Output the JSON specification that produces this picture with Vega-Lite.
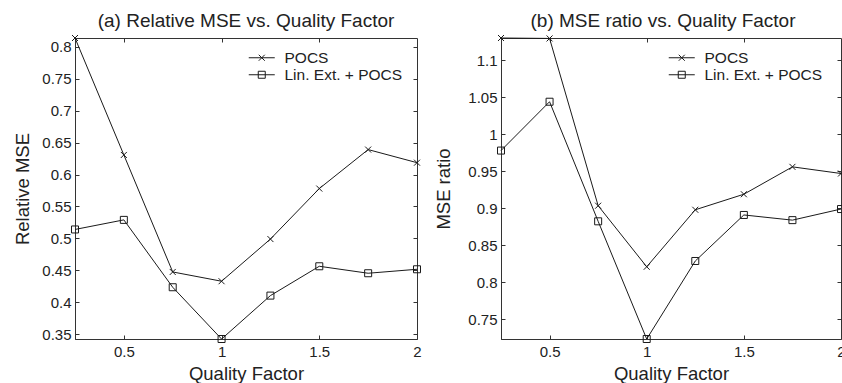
{
  "$schema": "https://vega.github.io/schema/vega-lite/v6.json",
  "padding": {"left": 13, "top": 11, "right": 0, "bottom": 0},
  "config": {
    "font": "Liberation Sans",
    "view": {"stroke": "#333", "strokeWidth": 1},
    "concat": {"spacing": 9},
    "axis": {
      "grid": false,
      "domainColor": "#333",
      "tickColor": "#333",
      "tickWidth": 1,
      "labelColor": "#222",
      "titleColor": "#222",
      "labelFontSize": 15,
      "titleFontSize": 18.5,
      "titleFontWeight": "normal",
      "labelFlush": false,
      "labelOverlap": false,
      "tickSize": 4,
      "labelPadding": 4,
      "format": "~g"
    },
    "title": {"fontSize": 19, "fontWeight": "normal", "color": "#222", "offset": 2},
    "legend": {"padding": 0, "labelFontSize": 15.5, "labelColor": "#222"}
  },
  "datasets": {
    "a": [
      {"q": 0.25, "series": "POCS", "v": 0.8136},
      {"q": 0.5, "series": "POCS", "v": 0.6306},
      {"q": 0.75, "series": "POCS", "v": 0.4475},
      {"q": 1.0, "series": "POCS", "v": 0.433},
      {"q": 1.25, "series": "POCS", "v": 0.499},
      {"q": 1.5, "series": "POCS", "v": 0.578},
      {"q": 1.75, "series": "POCS", "v": 0.639},
      {"q": 2.0, "series": "POCS", "v": 0.6185},
      {"q": 0.25, "series": "Lin. Ext. + POCS", "v": 0.514},
      {"q": 0.5, "series": "Lin. Ext. + POCS", "v": 0.529},
      {"q": 0.75, "series": "Lin. Ext. + POCS", "v": 0.4236},
      {"q": 1.0, "series": "Lin. Ext. + POCS", "v": 0.3426},
      {"q": 1.25, "series": "Lin. Ext. + POCS", "v": 0.4105},
      {"q": 1.5, "series": "Lin. Ext. + POCS", "v": 0.4564},
      {"q": 1.75, "series": "Lin. Ext. + POCS", "v": 0.4455},
      {"q": 2.0, "series": "Lin. Ext. + POCS", "v": 0.4517}
    ],
    "b": [
      {"q": 0.25, "series": "POCS", "v": 1.1301},
      {"q": 0.5, "series": "POCS", "v": 1.1295},
      {"q": 0.75, "series": "POCS", "v": 0.9035},
      {"q": 1.0, "series": "POCS", "v": 0.821},
      {"q": 1.25, "series": "POCS", "v": 0.898},
      {"q": 1.5, "series": "POCS", "v": 0.919},
      {"q": 1.75, "series": "POCS", "v": 0.956},
      {"q": 2.0, "series": "POCS", "v": 0.947},
      {"q": 0.25, "series": "Lin. Ext. + POCS", "v": 0.978},
      {"q": 0.5, "series": "Lin. Ext. + POCS", "v": 1.044},
      {"q": 0.75, "series": "Lin. Ext. + POCS", "v": 0.8824},
      {"q": 1.0, "series": "Lin. Ext. + POCS", "v": 0.7234},
      {"q": 1.25, "series": "Lin. Ext. + POCS", "v": 0.8288},
      {"q": 1.5, "series": "Lin. Ext. + POCS", "v": 0.891},
      {"q": 1.75, "series": "Lin. Ext. + POCS", "v": 0.884},
      {"q": 2.0, "series": "Lin. Ext. + POCS", "v": 0.899}
    ]
  },
  "hconcat": [
    {
      "width": 342,
      "height": 301,
      "title": "(a) Relative MSE vs. Quality Factor",
      "data": {"name": "a"},
      "layer": [
        {
          "mark": {"type": "line", "color": "#1a1a1a", "strokeWidth": 1},
          "encoding": {
            "x": {"field": "q", "type": "quantitative", "scale": {"domain": [0.25, 2], "nice": false, "zero": false}, "axis": {"orient": "bottom", "values": [0.5, 1, 1.5, 2], "ticks": false, "labelPadding": 5, "title": "Quality Factor", "titlePadding": 5}},
            "y": {"field": "v", "type": "quantitative", "scale": {"domain": [0.3426, 0.8136], "nice": false, "zero": false}, "axis": {"orient": "left", "values": [0.35, 0.4, 0.45, 0.5, 0.55, 0.6, 0.65, 0.7, 0.75, 0.8], "ticks": false, "title": "Relative MSE", "titlePadding": 9}},
            "detail": {"field": "series"}
          }
        },
        {
          "mark": {"type": "point", "filled": false, "stroke": "#1a1a1a", "strokeWidth": 1, "opacity": 1},
          "encoding": {
            "x": {"field": "q", "type": "quantitative", "axis": {"orient": "top", "offset": -301, "values": [0.5, 1, 1.5], "labels": false, "domain": false, "title": null}},
            "y": {"field": "v", "type": "quantitative", "axis": {"orient": "right", "offset": -342, "values": [0.35, 0.4, 0.45, 0.5, 0.55, 0.6, 0.65, 0.7, 0.75, 0.8], "labels": false, "domain": false, "title": null}},
            "shape": {"field": "series", "type": "nominal", "scale": {"domain": ["POCS", "Lin. Ext. + POCS"], "range": ["M-1,-1L1,1M-1,1L1,-1", "square"]}, "legend": null},
            "size": {"field": "series", "type": "nominal", "scale": {"domain": ["POCS", "Lin. Ext. + POCS"], "range": [36, 49]}, "legend": null}
          }
        },
        {
          "mark": {"type": "point", "filled": false, "stroke": "#1a1a1a", "strokeWidth": 1, "strokeOpacity": 0},
          "encoding": {
            "x": {"field": "q", "type": "quantitative", "axis": {"orient": "bottom", "offset": -301, "values": [0.5, 1, 1.5], "labels": false, "domain": false, "title": null}},
            "y": {"field": "v", "type": "quantitative", "axis": {"orient": "left", "offset": -342, "values": [0.35, 0.4, 0.45, 0.5, 0.55, 0.6, 0.65, 0.7, 0.75, 0.8], "labels": false, "domain": false, "title": null}},
            "shape": {"field": "series", "type": "nominal", "scale": {"domain": ["POCS", "Lin. Ext. + POCS"], "range": ["M-2.6,0L2.6,0M-0.6,-0.6L0.6,0.6M-0.6,0.6L0.6,-0.6", "M-2.6,0L2.6,0M-0.7,-0.7L0.7,-0.7L0.7,0.7L-0.7,0.7Z"]},
              "legend": {"title": null, "orient": "none", "legendX": 179, "legendY": 12, "symbolSize": 100, "labelOffset": 15, "rowPadding": -2, "symbolOpacity": 1, "symbolStrokeColor": "#1a1a1a", "symbolStrokeWidth": 1, "symbolFillColor": "transparent"}}
          }
        }
      ],
      "resolve": {"axis": {"x": "independent", "y": "independent"}, "scale": {"shape": "independent", "size": "independent"}, "legend": {"shape": "independent", "size": "independent"}}
    },
    {
      "width": 340,
      "height": 301,
      "title": {"text": "(b) MSE ratio vs. Quality Factor", "dx": -8},
      "data": {"name": "b"},
      "layer": [
        {
          "mark": {"type": "line", "color": "#1a1a1a", "strokeWidth": 1},
          "encoding": {
            "x": {"field": "q", "type": "quantitative", "scale": {"domain": [0.25, 2], "nice": false, "zero": false}, "axis": {"orient": "bottom", "values": [0.5, 1, 1.5, 2], "ticks": false, "labelPadding": 5, "title": "Quality Factor", "titlePadding": 5}},
            "y": {"field": "v", "type": "quantitative", "scale": {"domain": [0.7234, 1.1301], "nice": false, "zero": false}, "axis": {"orient": "left", "values": [0.75, 0.8, 0.85, 0.9, 0.95, 1, 1.05, 1.1], "ticks": false, "title": "MSE ratio", "titlePadding": 14}},
            "detail": {"field": "series"}
          }
        },
        {
          "mark": {"type": "point", "filled": false, "stroke": "#1a1a1a", "strokeWidth": 1, "opacity": 1},
          "encoding": {
            "x": {"field": "q", "type": "quantitative", "axis": {"orient": "top", "offset": -301, "values": [0.5, 1, 1.5], "labels": false, "domain": false, "title": null}},
            "y": {"field": "v", "type": "quantitative", "axis": {"orient": "right", "offset": -340, "values": [0.75, 0.8, 0.85, 0.9, 0.95, 1, 1.05, 1.1], "labels": false, "domain": false, "title": null}},
            "shape": {"field": "series", "type": "nominal", "scale": {"domain": ["POCS", "Lin. Ext. + POCS"], "range": ["M-1,-1L1,1M-1,1L1,-1", "square"]}, "legend": null},
            "size": {"field": "series", "type": "nominal", "scale": {"domain": ["POCS", "Lin. Ext. + POCS"], "range": [36, 49]}, "legend": null}
          }
        },
        {
          "mark": {"type": "point", "filled": false, "stroke": "#1a1a1a", "strokeWidth": 1, "strokeOpacity": 0},
          "encoding": {
            "x": {"field": "q", "type": "quantitative", "axis": {"orient": "bottom", "offset": -301, "values": [0.5, 1, 1.5], "labels": false, "domain": false, "title": null}},
            "y": {"field": "v", "type": "quantitative", "axis": {"orient": "left", "offset": -340, "values": [0.75, 0.8, 0.85, 0.9, 0.95, 1, 1.05, 1.1], "labels": false, "domain": false, "title": null}},
            "shape": {"field": "series", "type": "nominal", "scale": {"domain": ["POCS", "Lin. Ext. + POCS"], "range": ["M-2.6,0L2.6,0M-0.6,-0.6L0.6,0.6M-0.6,0.6L0.6,-0.6", "M-2.6,0L2.6,0M-0.7,-0.7L0.7,-0.7L0.7,0.7L-0.7,0.7Z"]},
              "legend": {"title": null, "orient": "none", "legendX": 173, "legendY": 12, "symbolSize": 100, "labelOffset": 15, "rowPadding": -2, "symbolOpacity": 1, "symbolStrokeColor": "#1a1a1a", "symbolStrokeWidth": 1, "symbolFillColor": "transparent"}}
          }
        }
      ],
      "resolve": {"axis": {"x": "independent", "y": "independent"}, "scale": {"shape": "independent", "size": "independent"}, "legend": {"shape": "independent", "size": "independent"}}
    }
  ],
  "resolve": {"scale": {"shape": "independent", "size": "independent"}, "legend": {"shape": "independent", "size": "independent"}}
}
